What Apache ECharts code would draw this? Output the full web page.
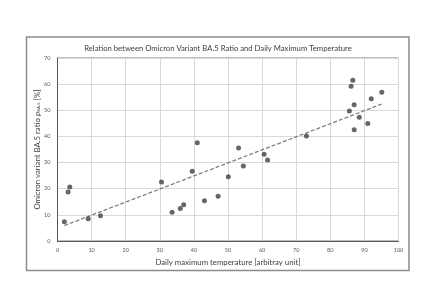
<!DOCTYPE html>
<html>
<head>
<meta charset="utf-8">
<script src="https://cdn.jsdelivr.net/npm/echarts@6/dist/echarts.min.js"></script>
<style>html,body{margin:0;padding:0;background:#fff}#c{width:436px;height:308px}</style>
</head>
<body>
<div id="c"></div>
<script>
var tempX = [2.0,3.1,3.6,9.0,12.6,30.5,33.6,36.0,37.0,39.5,41.0,43.1,47.1,50.1,53.1,54.5,60.6,61.6,73.0,85.6,86.1,86.6,87.0,87.0,88.5,91.0,92.0,95.1];
var ratioY = [7.4,18.7,20.7,8.5,9.7,22.6,11.0,12.4,13.9,26.7,37.6,15.4,17.1,24.6,35.6,28.7,33.2,31.0,40.2,49.7,59.2,61.5,52.1,42.6,47.3,44.9,54.4,56.9];
var trendX = [2.0, 95.1];
var trendY = [5.9, 52.4];
var xTicks = [0,10,20,30,40,50,60,70,80,90,100];
var yTicks = [0,10,20,30,40,50,60,70];

var pts = tempX.map(function(x,i){return [x, ratioY[i]];});
var trend = trendX.map(function(x,i){return [x, trendY[i]];});
var FONT = 'Lato';
var chart = echarts.init(document.getElementById('c'), null, {renderer:'canvas'});
chart.setOption({
  animation:false,
  backgroundColor:'#fff',
  title:{
    text:'Relation between Omicron Variant BA.5 Ratio and Daily Maximum Temperature',
    left:'center', top:40,
    textStyle:{fontFamily:FONT, fontSize:7.7, fontWeight:'normal', color:'#404040'}
  },
  graphic:[{type:'rect', shape:{x:26.5,y:37,width:382.5,height:233.5}, style:{fill:null, stroke:'#8c8c8c', lineWidth:1.5}, z:-1}],
  grid:{left:57.5, right:37.5, top:58, bottom:67, show:true, borderColor:'#7f7f7f', borderWidth:1},
  xAxis:{
    type:'value', min:0, max:100, interval:10,
    name:'Daily maximum temperature [arbitray unit]',
    nameLocation:'middle', nameGap:17, nameMoveOverlap:false,
    nameTextStyle:{fontFamily:FONT, fontSize:7.8, color:'#404040'},
    axisLine:{show:true, lineStyle:{color:'#595959', width:1}},
    axisTick:{show:false},
    axisLabel:{fontFamily:FONT, fontSize:5.5, color:'#595959', margin:6},
    splitLine:{show:true, lineStyle:{color:'#d9d9d9', width:1}}
  },
  yAxis:{
    type:'value', min:0, max:70, interval:10,
    name:'{n|Omicron variant BA.5 ratio }{i|p}{s|BA.5}{n| [%]}',
    nameLocation:'middle', nameGap:16, nameRotate:90, nameMoveOverlap:false,
    nameTextStyle:{rich:{
      n:{fontFamily:FONT, fontSize:7.8, color:'#404040'},
      i:{fontFamily:FONT, fontSize:7.8, fontStyle:'italic', color:'#404040'},
      s:{fontFamily:FONT, fontSize:4.5, color:'#404040', verticalAlign:'bottom', padding:[3,0,0,0]}
    }},
    axisLine:{show:true, lineStyle:{color:'#595959', width:1}},
    axisTick:{show:false},
    axisLabel:{fontFamily:FONT, fontSize:5.5, color:'#595959', margin:7},
    splitLine:{show:true, lineStyle:{color:'#d9d9d9', width:1}}
  },
  series:[
    {type:'line', data:trend, symbol:'none', lineStyle:{color:'#808080', width:1.3, type:[4,2]}, z:2},
    {type:'scatter', data:pts, symbol:'circle', symbolSize:5, itemStyle:{color:'#404040'}, z:3}
  ]
});
</script>
</body>
</html>
